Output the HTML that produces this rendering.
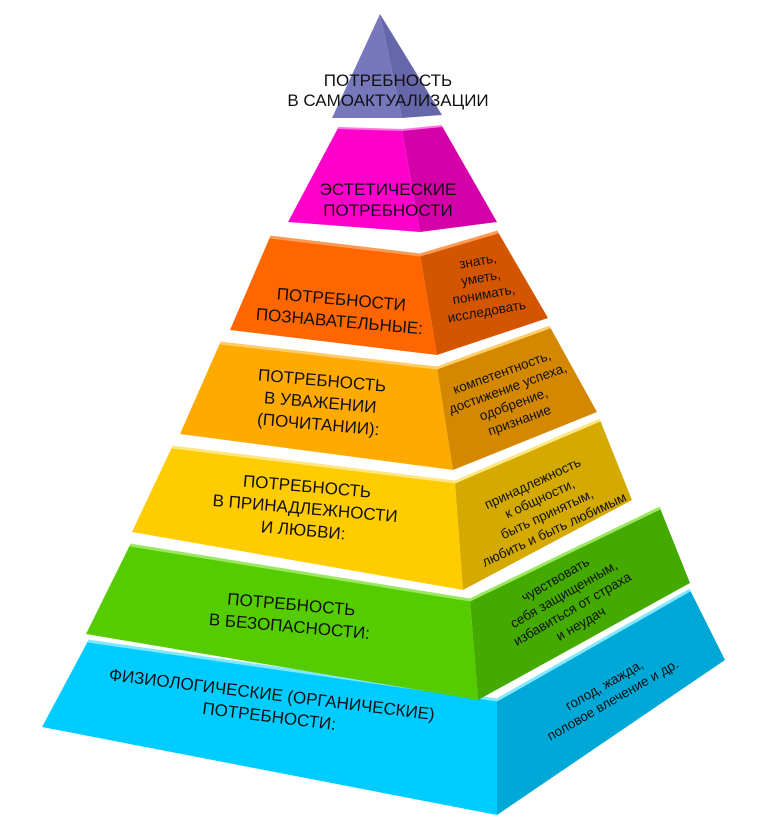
<!DOCTYPE html>
<html><head><meta charset="utf-8"><style>
html,body{margin:0;padding:0;background:#fff;}
svg{display:block;font-family:"Liberation Sans",sans-serif;}
</style></head><body>
<svg width="778" height="827" viewBox="0 0 778 827">
<!-- blue -->
<polygon points="88,641 497,700 497,815 42,727" fill="#00ccff"/>
<polygon points="497,700 690,590 725,660 497,815" fill="#00a8d8"/>
<polyline points="88,641 497,700 690,590" fill="none" stroke="#80e8ff" stroke-width="3"/>
<!-- green -->
<polygon points="130,545 470,600 478,700 86,634" fill="#55cc00"/>
<polygon points="470,600 660,508 690,583 478,700" fill="#44aa00"/>
<polyline points="130,545 470,600 660,508" fill="none" stroke="#99e860" stroke-width="3"/>
<!-- yellow -->
<polygon points="172,447 455,482 463,590 132,532" fill="#ffcc00"/>
<polygon points="455,482 600,420 632,500 463,590" fill="#d4aa00"/>
<polyline points="172,447 455,482 600,420" fill="none" stroke="#ffe680" stroke-width="3"/>
<!-- orange -->
<polygon points="220,343 437,368 453,470 180,434" fill="#ffaa00"/>
<polygon points="437,368 550,327 597,412 453,470" fill="#d48800"/>
<polyline points="220,343 437,368 550,327" fill="none" stroke="#ffcc66" stroke-width="3"/>
<!-- dark orange -->
<polygon points="270,237 420,255 437,355 230,330" fill="#ff6600"/>
<polygon points="420,255 498,232 548,318 437,355" fill="#d45500"/>
<polyline points="270,237 420,255 498,232" fill="none" stroke="#ff9a55" stroke-width="3"/>
<!-- magenta -->
<polygon points="338,128 402,130 420,232 288,222" fill="#ff00cc"/>
<polygon points="402,130 442,126 497,222 420,232" fill="#d400a8"/>
<polyline points="338,128 402,130 442,126" fill="none" stroke="#ff77e0" stroke-width="2"/>
<!-- purple -->
<polygon points="380,14 402,118 332,118" fill="#7777bb"/>
<polygon points="380,14 442,115 402,118" fill="#6666aa"/>

<g font-size="17" fill="#111" text-anchor="middle">
<text x="388" y="86">ПОТРЕБНОСТЬ</text>
<text x="388" y="106">В САМОАКТУАЛИЗАЦИИ</text>
<text x="388" y="195">ЭСТЕТИЧЕСКИЕ</text>
<text x="388" y="216">ПОТРЕБНОСТИ</text>
<g transform="rotate(5 340 315)"><text x="340" y="305">ПОТРЕБНОСТИ</text><text x="340" y="327">ПОЗНАВАТЕЛЬНЫЕ:</text></g>
<g transform="rotate(5 320 405)"><text x="320" y="386">ПОТРЕБНОСТЬ</text><text x="320" y="408">В УВАЖЕНИИ</text><text x="320" y="430">(ПОЧИТАНИИ):</text></g>
<g transform="rotate(5 305 510)"><text x="305" y="492">ПОТРЕБНОСТЬ</text><text x="305" y="514">В ПРИНАДЛЕЖНОСТИ</text><text x="305" y="536">И ЛЮБВИ:</text></g>
<g transform="rotate(5 290 620)"><text x="290" y="610">ПОТРЕБНОСТЬ</text><text x="290" y="632">В БЕЗОПАСНОСТИ:</text></g>
<g transform="rotate(7 270 710)"><text x="270" y="700">ФИЗИОЛОГИЧЕСКИЕ (ОРГАНИЧЕСКИЕ)</text><text x="270" y="722">ПОТРЕБНОСТИ:</text></g>
</g>
<g font-size="13.5" fill="#111" text-anchor="middle">
<g transform="rotate(-10 483 290)"><text x="483" y="265">знать,</text><text x="483" y="282">уметь,</text><text x="483" y="299">понимать,</text><text x="483" y="316">исследовать</text></g>
<g transform="rotate(-20 512 400)"><text x="512" y="375">компетентность,</text><text x="512" y="392">достижение успеха,</text><text x="512" y="409">одобрение,</text><text x="512" y="426">признание</text></g>
<g transform="rotate(-25 545 510)"><text x="545" y="485">принадлежность</text><text x="545" y="502">к общности,</text><text x="545" y="519">быть принятым,</text><text x="545" y="536">любить и быть любимым</text></g>
<g transform="rotate(-30 570 605)"><text x="570" y="580">чувствовать</text><text x="570" y="597">себя защищенным,</text><text x="570" y="614">избавиться от страха</text><text x="570" y="631">и неудач</text></g>
<g transform="rotate(-30 610 695)"><text x="610" y="688">голод, жажда,</text><text x="610" y="705">половое влечение и др.</text></g>
</g>
</svg>
</body></html>
